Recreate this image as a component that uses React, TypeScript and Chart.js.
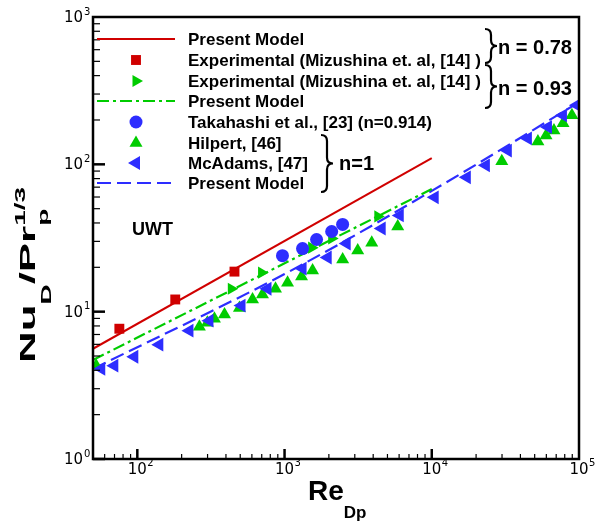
import React, { useEffect, useRef } from "react";
import { Chart, registerables } from "chart.js";
Chart.register(...registerables);

// ---------- data ----------
const reModel078 = [50, 10000];
const nuModel078 = [5.6, 110];
const reModel093 = [50, 10000];
const nuModel093 = [4.7, 68];
const reModel1 = [50, 1000, 10000, 100000];
const nuModel1 = [4.09, 18.0, 66, 264];

const reMizushina078 = [75.5, 181, 457];
const nuMizushina078 = [7.66, 12.1, 18.7];

const reMizushina093 = [435, 698, 1528, 2090, 4300];
const nuMizushina093 = [14.3, 18.4, 27.2, 31.4, 44.3];

const reTakahashi = [968, 1325, 1650, 2090, 2480];
const nuTakahashi = [24.0, 26.8, 30.9, 35.0, 39.1];

const reHilpert = [52.6, 264, 299, 334, 391, 494, 606, 708, 868, 1048, 1305, 1550, 2481, 3141, 3910, 5870, 29900, 52600, 59700, 67600, 77900, 89500];
const nuHilpert = [4.3, 7.91, 8.41, 8.96, 9.55, 10.6, 12.1, 13.1, 14.3, 15.7, 17.3, 19.0, 22.6, 26.0, 29.4, 37.8, 105, 143, 157, 170, 190, 215];

const reMcAdams = [56.9, 69.8, 95.4, 141, 226, 309, 510, 766, 1325, 1963, 2642, 4570, 6060, 10470, 17290, 23300, 32850, 44950, 61500, 77800, 96800];
const nuMcAdams = [4.09, 4.3, 4.94, 5.97, 7.43, 8.69, 11.0, 14.3, 19.6, 23.3, 29.0, 36.7, 45.0, 59.7, 81.6, 98.4, 124, 150, 179, 215, 252];

const xMajorTicks = [100, 1000, 10000, 100000];
const xTickExponents = ["2", "3", "4", "5"];
const yMajorTicks = [1, 10, 100, 1000];
const yTickExponents = ["0", "1", "2", "3"];

const legendLabels = [
  "Present Model",
  "Experimental (Mizushina et. al, [14] )",
  "Experimental (Mizushina et. al, [14] )",
  "Present Model",
  "Takahashi et al., [23] (n=0.914)",
  "Hilpert, [46]",
  "McAdams, [47]",
  "Present Model",
];
const groupLabels = ["n = 0.78", "n = 0.93", "n=1"];
const caseLabel = "UWT";

// ---------- styles ----------
const RED = "#d00000";
const GREEN = "#00cc00";
const BLUE = "#2d2dff";
const FONT = "'Liberation Sans', Arial, sans-serif";

const pts = (xs: number[], ys: number[]) => xs.map((x, i) => ({ x, y: ys[i] }));

function shape(ctx: CanvasRenderingContext2D, style: string, x: number, y: number, r: number, rot: number) {
  ctx.beginPath();
  if (style === "rect") {
    const s = Math.SQRT1_2 * r;
    ctx.rect(x - s, y - s, 2 * s, 2 * s);
  } else if (style === "circle") {
    ctx.arc(x, y, r, 0, Math.PI * 2);
  } else {
    let rad = (rot * Math.PI) / 180;
    ctx.moveTo(x + Math.sin(rad) * r, y - Math.cos(rad) * r);
    rad += (2 * Math.PI) / 3;
    ctx.lineTo(x + Math.sin(rad) * r, y - Math.cos(rad) * r);
    rad += (2 * Math.PI) / 3;
    ctx.lineTo(x + Math.sin(rad) * r, y - Math.cos(rad) * r);
    ctx.closePath();
  }
  ctx.fill();
}

function brace(ctx: CanvasRenderingContext2D, x: number, y1: number, y2: number, w: number) {
  const ym = (y1 + y2) / 2;
  const xm = x + w * 0.5;
  const r = Math.min(6, (y2 - y1) / 5);
  ctx.beginPath();
  ctx.moveTo(x, y1);
  ctx.quadraticCurveTo(xm, y1, xm, y1 + r);
  ctx.lineTo(xm, ym - r);
  ctx.quadraticCurveTo(xm, ym, x + w, ym);
  ctx.quadraticCurveTo(xm, ym, xm, ym + r);
  ctx.lineTo(xm, y2 - r);
  ctx.quadraticCurveTo(xm, y2, x, y2);
  ctx.stroke();
}

type Seg = { t: string; size: number; dy: number; adv?: boolean };
function richText(ctx: CanvasRenderingContext2D, segs: Seg[], x: number, y: number, rot: number, targetLen: number | null) {
  ctx.save();
  let total = 0;
  const widths = segs.map((s) => {
    ctx.font = `bold ${s.size}px ${FONT}`;
    const w = ctx.measureText(s.t).width;
    if (s.adv !== false) total += w;
    return w;
  });
  ctx.translate(x, y);
  ctx.rotate(rot);
  if (targetLen) ctx.scale(targetLen / total, 1);
  let cx = 0;
  ctx.textBaseline = "alphabetic";
  ctx.textAlign = "left";
  segs.forEach((s, i) => {
    ctx.font = `bold ${s.size}px ${FONT}`;
    ctx.fillText(s.t, cx, s.dy);
    if (s.adv !== false) cx += widths[i];
  });
  ctx.restore();
}

const decorations = {
  id: "decorations",
  afterDatasetsDraw(chart: any) {
    const { ctx, chartArea: a, scales } = chart;
    const xs = scales.x;
    const ys = scales.y;
    ctx.save();
    ctx.strokeStyle = "#000";
    ctx.fillStyle = "#000";
    // y ticks
    for (let d = 0; d < 3; d++) {
      for (let m = 1; m <= 9; m++) {
        const v = m * Math.pow(10, d);
        const py = ys.getPixelForValue(v);
        const major = m === 1;
        ctx.lineWidth = major ? 2.5 : 1.2;
        ctx.beginPath();
        ctx.moveTo(a.left, py);
        ctx.lineTo(a.left + (major ? 12 : 7), py);
        ctx.stroke();
      }
    }
    // x ticks
    for (let d = 1; d < 5; d++) {
      for (let m = 1; m <= 9; m++) {
        const v = m * Math.pow(10, d);
        if (v <= xs.min || v >= xs.max) continue;
        const px = xs.getPixelForValue(v);
        const major = m === 1;
        ctx.lineWidth = major ? 2.5 : 1.2;
        ctx.beginPath();
        ctx.moveTo(px, a.bottom);
        ctx.lineTo(px, a.bottom - (major ? 10 : 5));
        ctx.stroke();
      }
    }
    // frame
    ctx.lineWidth = 2.5;
    ctx.strokeRect(a.left, a.top, a.right - a.left, a.bottom - a.top);

    // tick labels
    ctx.textBaseline = "middle";
    yMajorTicks.forEach((v, i) => {
      const py = ys.getPixelForValue(v) + 1;
      ctx.font = `15px 'DejaVu Sans', sans-serif`;
      ctx.textAlign = "right";
      ctx.fillText("10", a.left - 10, py);
      ctx.font = `10px 'DejaVu Sans', sans-serif`;
      ctx.textAlign = "left";
      ctx.fillText(yTickExponents[i], a.left - 9, py - 6);
    });
    xMajorTicks.forEach((v, i) => {
      const px = xs.getPixelForValue(v);
      ctx.font = `15px 'DejaVu Sans', sans-serif`;
      ctx.textAlign = "center";
      ctx.fillText("10", px, a.bottom + 11);
      ctx.font = `10px 'DejaVu Sans', sans-serif`;
      ctx.textAlign = "left";
      ctx.fillText(xTickExponents[i], px + 10, a.bottom + 4);
    });

    // axis titles
    richText(ctx, [
      { t: "Re", size: 28, dy: 0 },
      { t: "Dp", size: 17, dy: 18 },
    ], 308, a.bottom + 41, 0, null);

    richText(ctx, [
      { t: "Nu", size: 22, dy: 0 },
      { t: "D", size: 14, dy: 16 },
      { t: "/Pr", size: 22, dy: 0 },
      { t: "p", size: 14, dy: 13, adv: false },
      { t: "1/3", size: 14, dy: -10 },
    ], 35, 363, -Math.PI / 2, 176);

    // legend
    const lx1 = 97, lx2 = 175, sx = 136, tx = 188;
    const rows = [39, 60, 81, 101, 122, 143, 163, 183];
    const ds = chart.data.datasets;
    const legendMap = [0, 3, 4, 1, 5, 6, 7, 2];
    legendMap.forEach((di, r) => {
      const d = ds[di];
      const y = rows[r];
      if (d.showLine) {
        ctx.save();
        ctx.strokeStyle = d.borderColor;
        ctx.lineWidth = d.borderWidth;
        ctx.setLineDash(d.borderDash || []);
        ctx.beginPath();
        ctx.moveTo(lx1, y);
        ctx.lineTo(lx2, y);
        ctx.stroke();
        ctx.restore();
      } else {
        ctx.save();
        ctx.fillStyle = d.backgroundColor;
        shape(ctx, d.pointStyle, sx, y, d.pointRadius, d.rotation || 0);
        ctx.restore();
      }
      ctx.fillStyle = "#000";
      ctx.font = `bold 17px ${FONT}`;
      ctx.textAlign = "left";
      ctx.textBaseline = "middle";
      ctx.fillText(legendLabels[r], tx, y + 1);
    });

    // braces & group labels
    ctx.lineWidth = 2.2;
    ctx.strokeStyle = "#000";
    brace(ctx, 485, 29, 63, 12);
    brace(ctx, 485, 65, 108, 12);
    brace(ctx, 321, 135, 192, 12);
    ctx.font = `bold 20px ${FONT}`;
    ctx.textAlign = "left";
    ctx.textBaseline = "middle";
    ctx.fillText(groupLabels[0], 498, 48);
    ctx.fillText(groupLabels[1], 498, 89);
    ctx.fillText(groupLabels[2], 339, 164);

    ctx.font = `bold 18px ${FONT}`;
    ctx.fillText(caseLabel, 132, 230);
    ctx.restore();
  },
};

export default function App() {
  const ref = useRef<HTMLCanvasElement>(null);
  useEffect(() => {
    if (!ref.current) return;
    const chart = new Chart(ref.current, {
      type: "scatter",
      data: {
        datasets: [
          { data: pts(reModel078, nuModel078), showLine: true, borderColor: RED, borderWidth: 2, pointRadius: 0, order: 10 } as any,
          { data: pts(reModel093, nuModel093), showLine: true, borderColor: GREEN, borderWidth: 2.2, borderDash: [12, 4, 3, 4], pointRadius: 0, order: 11 },
          { data: pts(reModel1, nuModel1), showLine: true, borderColor: BLUE, borderWidth: 2.2, borderDash: [14, 6], pointRadius: 0, tension: 0.3, cubicInterpolationMode: "monotone", order: 12 },
          { data: pts(reMizushina078, nuMizushina078), showLine: false, pointStyle: "rect", pointRadius: 7, backgroundColor: RED, borderColor: RED, borderWidth: 0, order: 0 },
          { data: pts(reMizushina093, nuMizushina093), showLine: false, pointStyle: "triangle", rotation: 90, pointRadius: 7, backgroundColor: GREEN, borderColor: GREEN, borderWidth: 0, order: 3 },
          { data: pts(reTakahashi, nuTakahashi), showLine: false, pointStyle: "circle", pointRadius: 6.5, backgroundColor: BLUE, borderColor: BLUE, borderWidth: 0, order: 0 },
          { data: pts(reHilpert, nuHilpert), showLine: false, pointStyle: "triangle", rotation: 0, pointRadius: 7.5, backgroundColor: GREEN, borderColor: GREEN, borderWidth: 0, order: 2 },
          { data: pts(reMcAdams, nuMcAdams), showLine: false, pointStyle: "triangle", rotation: 270, pointRadius: 8, backgroundColor: BLUE, borderColor: BLUE, borderWidth: 0, order: 1 },
        ],
      },
      options: {
        animation: false,
        responsive: false,
        layout: { padding: { left: 93, right: 19, top: 17, bottom: 66 } },
        plugins: { legend: { display: false }, tooltip: { enabled: false } },
        scales: {
          x: { type: "logarithmic", min: 50, max: 100000, display: false },
          y: { type: "logarithmic", min: 1, max: 1000, display: false },
        },
      },
      plugins: [decorations],
    });
    return () => chart.destroy();
  }, []);
  return (
    <div style={{ position: "absolute", left: 0, top: 0, width: 598, height: 525, background: "#fff" }}>
      <canvas ref={ref} width={598} height={525} style={{ display: "block" }} />
    </div>
  );
}
